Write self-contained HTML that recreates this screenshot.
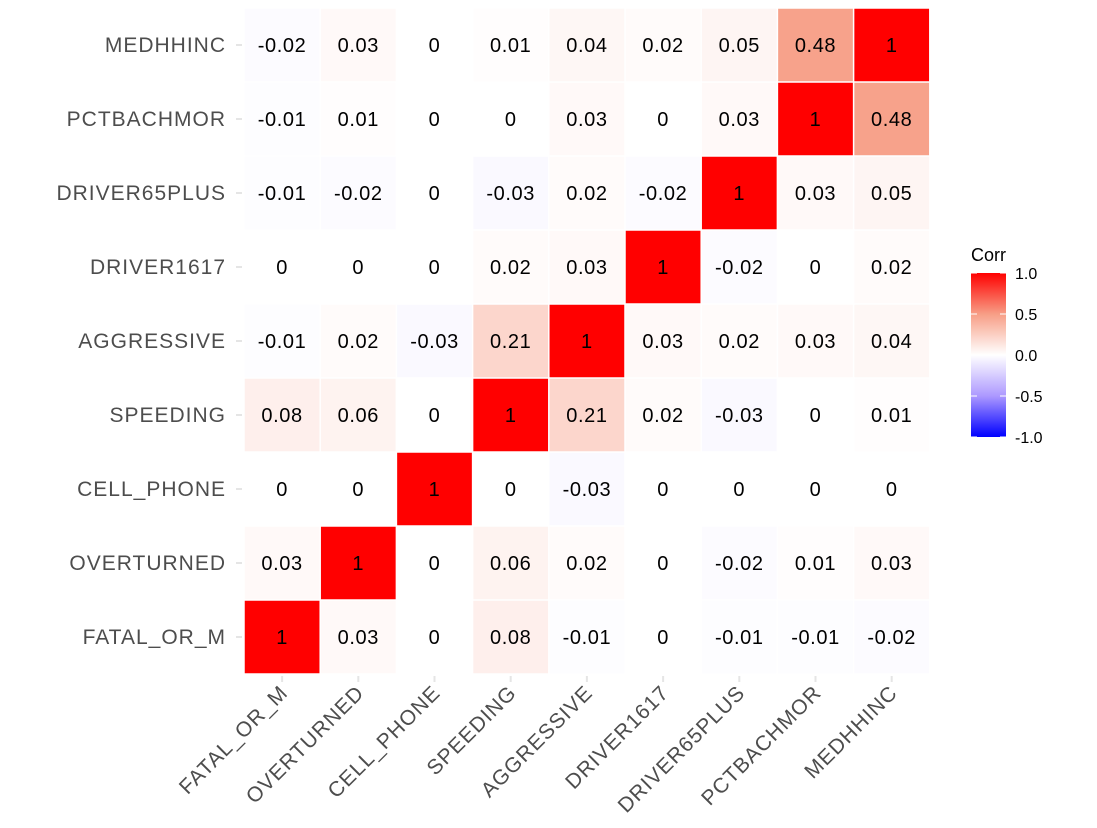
<!DOCTYPE html>
<html><head><meta charset="utf-8"><style>
body{margin:0;background:#fff;}
svg{display:block;font-family:"Liberation Sans",Arial,sans-serif;}
</style></head><body>
<svg id="chart" width="1097" height="828"></svg>
<script>
const vars = ["FATAL_OR_M","OVERTURNED","CELL_PHONE","SPEEDING","AGGRESSIVE","DRIVER1617","DRIVER65PLUS","PCTBACHMOR","MEDHHINC"];
const rowFATAL = [1,0.03,0,0.08,-0.01,0,-0.01,-0.01,-0.02];
const rowOVER = [0.03,1,0,0.06,0.02,0,-0.02,0.01,0.03];
const rowCELL = [0,0,1,0,-0.03,0,0,0,0];
const rowSPEED = [0.08,0.06,0,1,0.21,0.02,-0.03,0,0.01];
const rowAGG = [-0.01,0.02,-0.03,0.21,1,0.03,0.02,0.03,0.04];
const rowD1617 = [0,0,0,0.02,0.03,1,-0.02,0,0.02];
const rowD65 = [-0.01,-0.02,0,-0.03,0.02,-0.02,1,0.03,0.05];
const rowPCT = [-0.01,0.01,0,0,0.03,0,0.03,1,0.48];
const rowMED = [-0.02,0.03,0,0.01,0.04,0.02,0.05,0.48,1];
const matrix = [rowFATAL,rowOVER,rowCELL,rowSPEED,rowAGG,rowD1617,rowD65,rowPCT,rowMED];
const legendTicks = [1.0,0.5,0.0,-0.5,-1.0];

const NS="http://www.w3.org/2000/svg";
const svg=document.getElementById('chart');
const X0=244, CW=76.2, Y0=8, CH=74, N=vars.length;
const xPos=i=>X0+i*CW;
const yPos=j=>Y0+(N-1-j)*CH;
function mk(t,a){const e=document.createElementNS(NS,t);for(const k in a)e.setAttribute(k,a[k]);svg.appendChild(e);return e;}
function lerp(a,b,t){return a.map((v,i)=>Math.round(v+(b[i]-v)*t));}
function color(v){
  let c;
  if(v>=0){c=v<0.5?lerp([255,255,255],[247,158,134],v/0.5):lerp([247,158,134],[255,0,0],(v-0.5)/0.5);}
  else{const a=-v;c=a<0.5?lerp([255,255,255],[172,152,255],a/0.5):lerp([172,152,255],[0,0,255],(a-0.5)/0.5);}
  return `rgb(${c[0]},${c[1]},${c[2]})`;
}
for(let i=0;i<N;i++){
  const t1=mk('line',{x1:xPos(i)+CW/2,x2:xPos(i)+CW/2,y1:Y0+N*CH+2,y2:Y0+N*CH+8,stroke:'#e5e5e5','stroke-width':2});
  
  const t2=mk('line',{x1:X0-8,x2:X0-2,y1:yPos(i)+CH/2,y2:yPos(i)+CH/2,stroke:'#e5e5e5','stroke-width':2});
  
}
for(let j=0;j<N;j++){for(let i=0;i<N;i++){
  const v=matrix[j][i];
  const r=mk('rect',{x:xPos(i)+0.75,y:yPos(j)+0.75,width:CW-1.5,height:CH-1.5,fill:color(v)});
  
  const t=mk('text',{x:xPos(i)+CW/2,y:yPos(j)+CH/2+7,'text-anchor':'middle','font-size':20,'letter-spacing':0.6,fill:'#000'});
  t.textContent=String(v);
  
}}
vars.forEach((n,j)=>{
  const t=mk('text',{x:X0-18,y:yPos(j)+CH/2+7,'text-anchor':'end','font-size':21,'letter-spacing':1,fill:'#4d4d4d'});
  t.textContent=n;
  const cx=xPos(j)+CW/2+7, cy=Y0+N*CH+20;
  const u=mk('text',{x:cx,y:cy,'text-anchor':'end','font-size':21,'letter-spacing':1,fill:'#4d4d4d',transform:`rotate(-45 ${cx} ${cy})`});
  u.textContent=n;
});
const defs=mk('defs',{});
const g=document.createElementNS(NS,'linearGradient');g.setAttribute('id','lg');g.setAttribute('x1',0);g.setAttribute('x2',0);g.setAttribute('y1',0);g.setAttribute('y2',1);
for(let k=0;k<=20;k++){const v=1-k/10;const s=document.createElementNS(NS,'stop');s.setAttribute('offset',k/20);s.setAttribute('stop-color',color(v));g.appendChild(s);}
defs.appendChild(g);
const LY0=273, LY1=437, LX=971, LW=35;
const lb=mk('rect',{x:LX,y:LY0,width:LW,height:LY1-LY0,fill:'url(#lg)'});

const lt=mk('text',{x:971,y:261,'font-size':18,fill:'#000'});lt.textContent='Corr';

legendTicks.forEach(v=>{
  const y=LY0+(1-v)/2*(LY1-LY0);
  const a=mk('line',{x1:LX,x2:LX+6,y1:y,y2:y,stroke:'#fff','stroke-width':1});
  
  const b=mk('line',{x1:LX+LW-6,x2:LX+LW,y1:y,y2:y,stroke:'#fff','stroke-width':1});
  
  const t=mk('text',{x:1015,y:y+6,'font-size':16,fill:'#000'});t.textContent=v.toFixed(1);
  
});
</script>
</body></html>
